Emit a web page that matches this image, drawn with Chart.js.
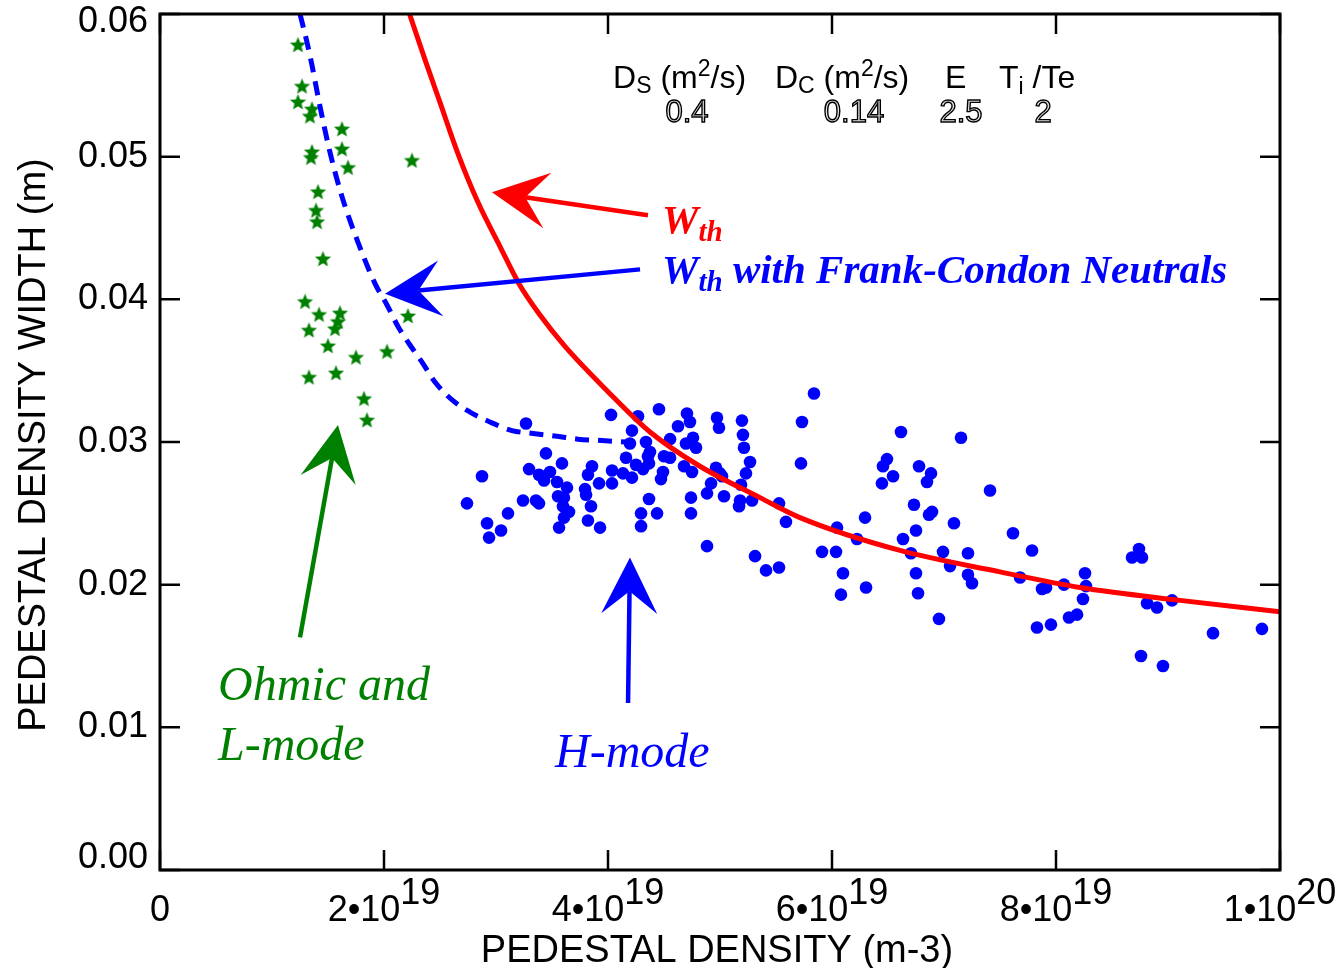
<!DOCTYPE html>
<html>
<head>
<meta charset="utf-8">
<script src="https://cdn.jsdelivr.net/npm/chart.js@4.4.0/dist/chart.umd.min.js"></script>
<style>
html,body{margin:0;padding:0;background:#fff;}
canvas{display:block;}
</style>
</head>
<body>
<canvas id="chart" width="1342" height="968"></canvas>
<script>
// pedestal density in units of 1e19 m^-3, pedestal width in m

// H-mode points (blue dots)
const hmodeDensity = [
  3.268, 3.446, 3.589, 2.875, 3.295, 3.384, 3.429, 3.482, 3.545, 3.634,
  3.554, 3.607, 3.598, 3.652, 3.607, 3.563, 2.741, 3.241, 3.357, 3.384,
  3.107, 2.920, 3.045, 2.938, 3.857, 3.821, 3.920, 3.795, 3.804, 3.848,
  3.821, 3.929,
  4.027, 4.268, 4.455, 4.705, 4.732, 4.625, 4.973, 4.991, 5.196, 5.205,
  4.214, 4.196, 4.339, 4.554, 4.696, 4.759, 4.786, 5.214, 4.375, 4.357,
  4.500, 4.554, 4.161, 5.268, 4.250, 4.313, 4.366, 4.036, 4.134, 4.214,
  4.491, 4.473, 4.679, 4.750, 4.964, 5.000, 5.018, 4.920, 5.232, 5.188,
  4.036, 4.366, 4.741, 4.884, 5.036, 5.179, 5.170, 5.286, 4.295, 4.438,
  4.741, 4.295, 4.884, 5.313,
  5.839, 5.732, 5.723, 5.527, 5.589, 5.411, 5.527, 6.616, 7.152, 6.455,
  6.491, 6.777, 6.884, 6.545, 6.446, 6.848, 7.411, 6.732, 6.866, 6.893,
  7.089, 6.295, 6.045, 6.750, 6.634, 6.223, 5.911, 6.036, 6.991, 7.214,
  6.705, 7.054, 6.098, 6.304, 6.080, 6.750, 6.768, 7.214, 7.250, 6.955,
  7.616, 7.679,
  7.786, 7.875, 7.911, 8.071, 8.259, 8.268, 8.241, 7.830, 7.955, 8.116,
  8.188, 8.679, 8.741, 8.768, 8.813, 8.902, 9.036, 8.759, 8.955, 9.402,
  9.839
];
const hmodeWidth = [
  0.0313, 0.0292, 0.0285, 0.0276, 0.0281, 0.0277, 0.0273, 0.0279, 0.0272, 0.0268,
  0.0262, 0.0261, 0.0255, 0.0251, 0.0247, 0.0240, 0.0257, 0.0259, 0.0259, 0.0257,
  0.0250, 0.0243, 0.0238, 0.0233, 0.0283, 0.0277, 0.0271, 0.0267, 0.0263, 0.0255,
  0.0245, 0.0240,
  0.0319, 0.0318, 0.0323, 0.0320, 0.0314, 0.0311, 0.0317, 0.0310, 0.0315, 0.0305,
  0.0308, 0.0299, 0.0300, 0.0302, 0.0299, 0.0303, 0.0296, 0.0296, 0.0293, 0.0290,
  0.0290, 0.0289, 0.0289, 0.0286, 0.0284, 0.0281, 0.0285, 0.0280, 0.0278, 0.0275,
  0.0279, 0.0274, 0.0283, 0.0279, 0.0282, 0.0278, 0.0276, 0.0271, 0.0278, 0.0270,
  0.0271, 0.0260, 0.0261, 0.0264, 0.0262, 0.0259, 0.0255, 0.0259, 0.0250, 0.0250,
  0.0250, 0.0241, 0.0227, 0.0220,
  0.0334, 0.0314, 0.0285, 0.0257, 0.0244, 0.0210, 0.0212, 0.0307, 0.0303, 0.0283,
  0.0288, 0.0283, 0.0278, 0.0276, 0.0271, 0.0272, 0.0266, 0.0256, 0.0249, 0.0251,
  0.0243, 0.0247, 0.0240, 0.0238, 0.0232, 0.0232, 0.0223, 0.0223, 0.0223, 0.0222,
  0.0222, 0.0213, 0.0208, 0.0198, 0.0193, 0.0208, 0.0194, 0.0207, 0.0201, 0.0176,
  0.0236, 0.0205,
  0.0224, 0.0197, 0.0198, 0.0200, 0.0208, 0.0199, 0.0190, 0.0170, 0.0172, 0.0177,
  0.0179, 0.0219, 0.0225, 0.0219, 0.0187, 0.0184, 0.0189, 0.0150, 0.0143, 0.0166,
  0.0169
];

// Ohmic and L-mode points (green stars)
const ohmicDensity = [
  1.232, 1.268, 1.232, 1.357, 1.339, 1.625, 1.357, 1.348, 1.625, 1.679,
  2.250, 1.411, 1.393, 1.402, 1.455, 1.295, 1.420, 1.607, 1.330, 1.563,
  1.589, 1.500, 2.214, 1.750, 2.027, 1.330, 1.571, 1.821, 1.848
];
const ohmicWidth = [
  0.0578, 0.0549, 0.0538, 0.0533, 0.0528, 0.0519, 0.0503, 0.0499, 0.0505, 0.0492,
  0.0497, 0.0475, 0.0462, 0.0454, 0.0428, 0.0398, 0.0389, 0.0390, 0.0378, 0.0379,
  0.0384, 0.0367, 0.0388, 0.0359, 0.0363, 0.0345, 0.0348, 0.0330, 0.0315
];

// W_th model curve (red)
const wthDensity = [2.228, 2.366, 2.500, 2.661, 2.839, 3.036, 3.205, 3.393, 3.616, 3.991,
  4.375, 4.821, 5.357, 5.714, 6.607, 7.500, 8.214, 9.107, 10.0];
const wthWidth = [0.0600, 0.0568, 0.0538, 0.0502, 0.0468, 0.0437, 0.0411, 0.0389, 0.0367, 0.0336,
  0.0307, 0.0283, 0.0261, 0.0247, 0.0224, 0.0209, 0.0198, 0.0189, 0.0181];

// W_th with Frank-Condon neutrals (blue dashed)
const fcDensity = [1.250, 1.313, 1.357, 1.429, 1.518, 1.625, 1.768, 1.920, 2.027, 2.125,
  2.232, 2.348, 2.455, 2.616, 2.768, 2.946, 3.143, 3.330, 3.545, 3.732, 3.946, 4.170];
const fcWidth = [0.0600, 0.0580, 0.0564, 0.0535, 0.0503, 0.0472, 0.0440, 0.0411, 0.0396, 0.0381,
  0.0368, 0.0355, 0.0342, 0.0329, 0.0321, 0.0314, 0.0308, 0.0306, 0.0304, 0.0302, 0.0301, 0.0300];

const xTicks = [0, 2, 4, 6, 8, 10];
const xTickLabels = [['0', ''], ['2•10', '19'], ['4•10', '19'], ['6•10', '19'], ['8•10', '19'], ['1•10', '20']];
const yTicks = [0, 0.01, 0.02, 0.03, 0.04, 0.05, 0.06];

const SANS = '"Liberation Sans", Arial, sans-serif';
const SERIF = '"Liberation Serif", "Times New Roman", serif';

function pairs(xs, ys) { return xs.map((v, i) => ({ x: v, y: ys[i] })); }

function starImage(r, color) {
  const c = document.createElement('canvas');
  c.width = c.height = Math.ceil(2 * r + 2);
  const g = c.getContext('2d');
  g.fillStyle = color;
  g.beginPath();
  for (let i = 0; i < 10; i++) {
    const rad = i % 2 ? r * 0.44 : r;
    const ang = -Math.PI / 2 + i * Math.PI / 5;
    g.lineTo(c.width / 2 + rad * Math.cos(ang), c.height / 2 + rad * Math.sin(ang));
  }
  g.closePath();
  g.fill();
  return c;
}

// draw a run of [text, font, dy] pieces, returns width
function rich(ctx, x, y, parts, mode) {
  let cx = x;
  parts.forEach(([t, f, dy]) => {
    ctx.font = f;
    if (mode !== 'measure') ctx.fillText(t, cx, y + (dy || 0));
    cx += ctx.measureText(t).width;
  });
  return cx - x;
}

function arrow(ctx, x0, y0, x1, y1, color) {
  const ang = Math.atan2(y1 - y0, x1 - x0);
  const dx = Math.cos(ang), dy = Math.sin(ang);
  const L = 56, hw = 28, notch = 0.6 * L;
  ctx.strokeStyle = color;
  ctx.fillStyle = color;
  ctx.lineWidth = 4.5;
  ctx.beginPath();
  ctx.moveTo(x0, y0);
  ctx.lineTo(x1 - dx * notch, y1 - dy * notch);
  ctx.stroke();
  ctx.beginPath();
  ctx.moveTo(x1, y1);
  ctx.lineTo(x1 - dx * L - dy * hw, y1 - dy * L + dx * hw);
  ctx.lineTo(x1 - dx * notch, y1 - dy * notch);
  ctx.lineTo(x1 - dx * L + dy * hw, y1 - dy * L - dx * hw);
  ctx.closePath();
  ctx.fill();
}

// annotation arrows: tail and tip in data units
const arrows = [
  { from: [4.357, 0.0459], to: [2.964, 0.0475], color: '#ff0000' },
  { from: [4.286, 0.0421], to: [2.009, 0.0404], color: '#0000ff' },
  { from: [1.250, 0.0163], to: [1.589, 0.0312], color: '#008000' },
  { from: [4.179, 0.0117], to: [4.196, 0.0219], color: '#0000ff' }
];

const decor = {
  id: 'decor',
  afterDatasetsDraw(chart) {
    const { ctx, scales: { x, y } } = chart;
    const px = v => x.getPixelForValue(v), py = v => y.getPixelForValue(v);
    ctx.save();

    arrows.forEach(ar => arrow(ctx, px(ar.from[0]), py(ar.from[1]), px(ar.to[0]), py(ar.to[1]), ar.color));

    ctx.textBaseline = 'alphabetic';
    ctx.textAlign = 'left';

    // model parameter header
    const big = '32px ' + SANS, small = '23px ' + SANS;
    ctx.fillStyle = '#000';
    const hy = py(0.05481);
    rich(ctx, px(4.045), hy, [['D', big], ['S', small, 5], [' (m', big], ['2', small, -12], ['/s)', big]]);
    rich(ctx, px(5.491), hy, [['D', big], ['C', small, 5], [' (m', big], ['2', small, -12], ['/s)', big]]);
    rich(ctx, px(7.009), hy, [['E', big]]);
    rich(ctx, px(7.491), hy, [['T', big], ['i', small, 6], [' /Te', big]]);
    const ny = py(0.05243);
    ctx.font = '31px ' + SANS;
    ctx.textAlign = 'center';
    ctx.fillStyle = '#e4e4e4';
    ctx.strokeStyle = '#000';
    ctx.lineWidth = 1.4;
    [['0.4', 4.705], ['0.14', 6.196], ['2.5', 7.152], ['2', 7.884]].forEach(([t, v]) => {
      ctx.fillText(t, px(v), ny);
      ctx.strokeText(t, px(v), ny);
    });
    ctx.textAlign = 'left';

    // curve labels
    const bi = 'italic bold 41px ' + SERIF, bis = 'italic bold 29px ' + SERIF;
    ctx.fillStyle = '#ff0000';
    rich(ctx, px(4.482), py(0.04465), [['W', bi], ['th', bis, 8]]);
    ctx.fillStyle = '#0000ff';
    rich(ctx, px(4.482), py(0.04114), [['W', bi], ['th', bis, 8], [' with Frank-Condon Neutrals', bi]]);

    const it = 'italic 48px ' + SERIF;
    ctx.fillStyle = '#008000';
    rich(ctx, px(0.518), py(0.01192), [['Ohmic and', it]]);
    rich(ctx, px(0.518), py(0.00771), [['L-mode', it]]);
    ctx.fillStyle = '#0000ff';
    rich(ctx, px(3.527), py(0.00722), [['H-mode', it]]);
    ctx.restore();
  },
  afterDraw(chart) {
    const { ctx, chartArea: a, scales: { x, y } } = chart;
    ctx.save();
    ctx.strokeStyle = '#000';
    ctx.lineWidth = 3;
    ctx.strokeRect(a.left, a.top, a.right - a.left, a.bottom - a.top);
    ctx.lineWidth = 2.5;
    ctx.beginPath();
    xTicks.forEach(v => {
      const p = x.getPixelForValue(v);
      ctx.moveTo(p, a.bottom); ctx.lineTo(p, a.bottom - 20);
      ctx.moveTo(p, a.top); ctx.lineTo(p, a.top + 20);
    });
    yTicks.forEach(v => {
      const p = y.getPixelForValue(v);
      ctx.moveTo(a.left, p); ctx.lineTo(a.left + 20, p);
      ctx.moveTo(a.right, p); ctx.lineTo(a.right - 20, p);
    });
    ctx.stroke();

    ctx.fillStyle = '#000';
    const tf = '36px ' + SANS;
    ctx.font = tf;
    ctx.textAlign = 'right';
    ctx.textBaseline = 'middle';
    yTicks.forEach(v => {
      const p = Math.min(Math.max(y.getPixelForValue(v), a.top + 8), a.bottom - 12);
      ctx.fillText(v.toFixed(2), a.left - 12, p);
    });

    ctx.textAlign = 'left';
    ctx.textBaseline = 'alphabetic';
    xTicks.forEach((v, i) => {
      const parts = [[xTickLabels[i][0], tf, 0], [xTickLabels[i][1], tf, -17]];
      const w = rich(ctx, 0, 0, parts, 'measure');
      rich(ctx, x.getPixelForValue(v) - w / 2, a.bottom + 51, parts);
    });

    ctx.textAlign = 'center';
    ctx.font = '38px ' + SANS;
    ctx.fillText('PEDESTAL DENSITY (m-3)', (a.left + a.right) / 2 - 3, a.bottom + 92);
    ctx.translate(45, (a.top + a.bottom) / 2 + 3);
    ctx.rotate(-Math.PI / 2);
    ctx.fillText('PEDESTAL DENSITY WIDTH (m)', 0, 0);
    ctx.restore();
  }
};

new Chart(document.getElementById('chart'), {
  type: 'scatter',
  data: {
    datasets: [
      {
        label: 'Wth',
        data: pairs(wthDensity, wthWidth),
        showLine: true,
        borderColor: '#ff0000',
        borderWidth: 5,
        pointRadius: 0,
        cubicInterpolationMode: 'monotone'
      },
      {
        label: 'Wth with Frank-Condon Neutrals',
        data: pairs(fcDensity, fcWidth),
        showLine: true,
        borderColor: '#0000ff',
        borderWidth: 5,
        borderDash: [14, 9],
        pointRadius: 0,
        cubicInterpolationMode: 'monotone'
      },
      {
        label: 'Ohmic and L-mode',
        data: pairs(ohmicDensity, ohmicWidth),
        pointStyle: starImage(8.5, '#008000'),
        pointRadius: 9
      },
      {
        label: 'H-mode',
        data: pairs(hmodeDensity, hmodeWidth),
        pointStyle: 'circle',
        pointRadius: 6.3,
        borderWidth: 0,
        backgroundColor: '#0000ff'
      }
    ]
  },
  options: {
    responsive: false,
    animation: false,
    layout: { padding: { left: 160, right: 62, top: 14, bottom: 98 } },
    plugins: { legend: { display: false }, tooltip: { enabled: false } },
    scales: {
      x: { type: 'linear', min: 0, max: 10, display: false },
      y: { type: 'linear', min: 0, max: 0.06, display: false }
    }
  },
  plugins: [decor]
});
</script>
</body>
</html>
